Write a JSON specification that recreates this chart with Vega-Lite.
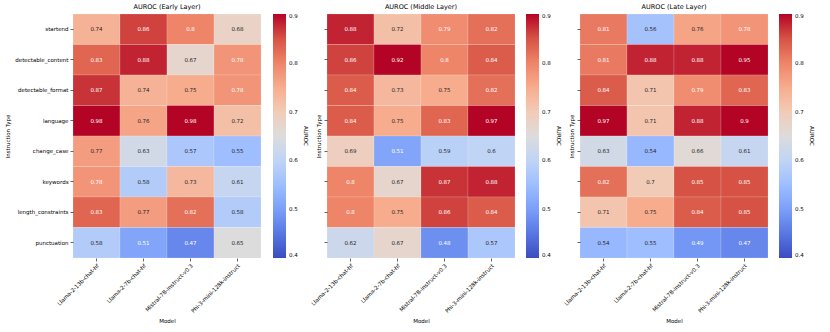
{
  "$schema": "https://vega.github.io/schema/vega-lite/v6.json",
  "padding": {"left": 5, "top": 4, "right": 5, "bottom": 4},
  "background": "white",
  "config": {
    "font": "DejaVu Sans",
    "view": {"stroke": null},
    "concat": {"spacing": 2},
    "title": {"fontSize": 6.5, "fontWeight": "normal", "offset": 3, "color": "black"},
    "axis": {"domain": false, "tickColor": "black", "tickSize": 3, "tickWidth": 0.6, "labelFontSize": 5.5, "labelColor": "black", "titleFontSize": 5.5, "titleFontWeight": "normal", "titleColor": "black", "labelPadding": 2},
    "legend": {"labelFontSize": 5.5, "labelColor": "black", "titleFontSize": 5.5, "titleFontWeight": "normal", "titleColor": "black"}
  },
  "datasets": {
    "early": [
      {"t": "startend", "m": "Llama-2-13b-chat-hf", "v": 0.74}, {"t": "startend", "m": "Llama-2-7b-chat-hf", "v": 0.86}, {"t": "startend", "m": "Mistral-7B-Instruct-v0.3", "v": 0.8}, {"t": "startend", "m": "Phi-3-mini-128k-instruct", "v": 0.68},
      {"t": "detectable_content", "m": "Llama-2-13b-chat-hf", "v": 0.83}, {"t": "detectable_content", "m": "Llama-2-7b-chat-hf", "v": 0.88}, {"t": "detectable_content", "m": "Mistral-7B-Instruct-v0.3", "v": 0.67}, {"t": "detectable_content", "m": "Phi-3-mini-128k-instruct", "v": 0.78},
      {"t": "detectable_format", "m": "Llama-2-13b-chat-hf", "v": 0.87}, {"t": "detectable_format", "m": "Llama-2-7b-chat-hf", "v": 0.74}, {"t": "detectable_format", "m": "Mistral-7B-Instruct-v0.3", "v": 0.75}, {"t": "detectable_format", "m": "Phi-3-mini-128k-instruct", "v": 0.78},
      {"t": "language", "m": "Llama-2-13b-chat-hf", "v": 0.98}, {"t": "language", "m": "Llama-2-7b-chat-hf", "v": 0.76}, {"t": "language", "m": "Mistral-7B-Instruct-v0.3", "v": 0.98}, {"t": "language", "m": "Phi-3-mini-128k-instruct", "v": 0.72},
      {"t": "change_case", "m": "Llama-2-13b-chat-hf", "v": 0.77}, {"t": "change_case", "m": "Llama-2-7b-chat-hf", "v": 0.63}, {"t": "change_case", "m": "Mistral-7B-Instruct-v0.3", "v": 0.57}, {"t": "change_case", "m": "Phi-3-mini-128k-instruct", "v": 0.55},
      {"t": "keywords", "m": "Llama-2-13b-chat-hf", "v": 0.78}, {"t": "keywords", "m": "Llama-2-7b-chat-hf", "v": 0.58}, {"t": "keywords", "m": "Mistral-7B-Instruct-v0.3", "v": 0.73}, {"t": "keywords", "m": "Phi-3-mini-128k-instruct", "v": 0.61},
      {"t": "length_constraints", "m": "Llama-2-13b-chat-hf", "v": 0.83}, {"t": "length_constraints", "m": "Llama-2-7b-chat-hf", "v": 0.77}, {"t": "length_constraints", "m": "Mistral-7B-Instruct-v0.3", "v": 0.82}, {"t": "length_constraints", "m": "Phi-3-mini-128k-instruct", "v": 0.58},
      {"t": "punctuation", "m": "Llama-2-13b-chat-hf", "v": 0.58}, {"t": "punctuation", "m": "Llama-2-7b-chat-hf", "v": 0.51}, {"t": "punctuation", "m": "Mistral-7B-Instruct-v0.3", "v": 0.47}, {"t": "punctuation", "m": "Phi-3-mini-128k-instruct", "v": 0.65}
    ],
    "middle": [
      {"t": "startend", "m": "Llama-2-13b-chat-hf", "v": 0.88}, {"t": "startend", "m": "Llama-2-7b-chat-hf", "v": 0.72}, {"t": "startend", "m": "Mistral-7B-Instruct-v0.3", "v": 0.79}, {"t": "startend", "m": "Phi-3-mini-128k-instruct", "v": 0.82},
      {"t": "detectable_content", "m": "Llama-2-13b-chat-hf", "v": 0.86}, {"t": "detectable_content", "m": "Llama-2-7b-chat-hf", "v": 0.92}, {"t": "detectable_content", "m": "Mistral-7B-Instruct-v0.3", "v": 0.8}, {"t": "detectable_content", "m": "Phi-3-mini-128k-instruct", "v": 0.84},
      {"t": "detectable_format", "m": "Llama-2-13b-chat-hf", "v": 0.84}, {"t": "detectable_format", "m": "Llama-2-7b-chat-hf", "v": 0.73}, {"t": "detectable_format", "m": "Mistral-7B-Instruct-v0.3", "v": 0.75}, {"t": "detectable_format", "m": "Phi-3-mini-128k-instruct", "v": 0.82},
      {"t": "language", "m": "Llama-2-13b-chat-hf", "v": 0.84}, {"t": "language", "m": "Llama-2-7b-chat-hf", "v": 0.75}, {"t": "language", "m": "Mistral-7B-Instruct-v0.3", "v": 0.83}, {"t": "language", "m": "Phi-3-mini-128k-instruct", "v": 0.97},
      {"t": "change_case", "m": "Llama-2-13b-chat-hf", "v": 0.69}, {"t": "change_case", "m": "Llama-2-7b-chat-hf", "v": 0.51}, {"t": "change_case", "m": "Mistral-7B-Instruct-v0.3", "v": 0.59}, {"t": "change_case", "m": "Phi-3-mini-128k-instruct", "v": 0.6},
      {"t": "keywords", "m": "Llama-2-13b-chat-hf", "v": 0.8}, {"t": "keywords", "m": "Llama-2-7b-chat-hf", "v": 0.67}, {"t": "keywords", "m": "Mistral-7B-Instruct-v0.3", "v": 0.87}, {"t": "keywords", "m": "Phi-3-mini-128k-instruct", "v": 0.88},
      {"t": "length_constraints", "m": "Llama-2-13b-chat-hf", "v": 0.8}, {"t": "length_constraints", "m": "Llama-2-7b-chat-hf", "v": 0.75}, {"t": "length_constraints", "m": "Mistral-7B-Instruct-v0.3", "v": 0.86}, {"t": "length_constraints", "m": "Phi-3-mini-128k-instruct", "v": 0.84},
      {"t": "punctuation", "m": "Llama-2-13b-chat-hf", "v": 0.62}, {"t": "punctuation", "m": "Llama-2-7b-chat-hf", "v": 0.67}, {"t": "punctuation", "m": "Mistral-7B-Instruct-v0.3", "v": 0.48}, {"t": "punctuation", "m": "Phi-3-mini-128k-instruct", "v": 0.57}
    ],
    "late": [
      {"t": "startend", "m": "Llama-2-13b-chat-hf", "v": 0.81}, {"t": "startend", "m": "Llama-2-7b-chat-hf", "v": 0.56}, {"t": "startend", "m": "Mistral-7B-Instruct-v0.3", "v": 0.76}, {"t": "startend", "m": "Phi-3-mini-128k-instruct", "v": 0.78},
      {"t": "detectable_content", "m": "Llama-2-13b-chat-hf", "v": 0.81}, {"t": "detectable_content", "m": "Llama-2-7b-chat-hf", "v": 0.88}, {"t": "detectable_content", "m": "Mistral-7B-Instruct-v0.3", "v": 0.88}, {"t": "detectable_content", "m": "Phi-3-mini-128k-instruct", "v": 0.95},
      {"t": "detectable_format", "m": "Llama-2-13b-chat-hf", "v": 0.84}, {"t": "detectable_format", "m": "Llama-2-7b-chat-hf", "v": 0.71}, {"t": "detectable_format", "m": "Mistral-7B-Instruct-v0.3", "v": 0.79}, {"t": "detectable_format", "m": "Phi-3-mini-128k-instruct", "v": 0.83},
      {"t": "language", "m": "Llama-2-13b-chat-hf", "v": 0.97}, {"t": "language", "m": "Llama-2-7b-chat-hf", "v": 0.71}, {"t": "language", "m": "Mistral-7B-Instruct-v0.3", "v": 0.88}, {"t": "language", "m": "Phi-3-mini-128k-instruct", "v": 0.9},
      {"t": "change_case", "m": "Llama-2-13b-chat-hf", "v": 0.63}, {"t": "change_case", "m": "Llama-2-7b-chat-hf", "v": 0.54}, {"t": "change_case", "m": "Mistral-7B-Instruct-v0.3", "v": 0.66}, {"t": "change_case", "m": "Phi-3-mini-128k-instruct", "v": 0.61},
      {"t": "keywords", "m": "Llama-2-13b-chat-hf", "v": 0.82}, {"t": "keywords", "m": "Llama-2-7b-chat-hf", "v": 0.7}, {"t": "keywords", "m": "Mistral-7B-Instruct-v0.3", "v": 0.85}, {"t": "keywords", "m": "Phi-3-mini-128k-instruct", "v": 0.85},
      {"t": "length_constraints", "m": "Llama-2-13b-chat-hf", "v": 0.71}, {"t": "length_constraints", "m": "Llama-2-7b-chat-hf", "v": 0.75}, {"t": "length_constraints", "m": "Mistral-7B-Instruct-v0.3", "v": 0.84}, {"t": "length_constraints", "m": "Phi-3-mini-128k-instruct", "v": 0.85},
      {"t": "punctuation", "m": "Llama-2-13b-chat-hf", "v": 0.54}, {"t": "punctuation", "m": "Llama-2-7b-chat-hf", "v": 0.55}, {"t": "punctuation", "m": "Mistral-7B-Instruct-v0.3", "v": 0.49}, {"t": "punctuation", "m": "Phi-3-mini-128k-instruct", "v": 0.47}
    ]
  },
  "resolve": {"scale": {"color": "independent"}, "legend": {"color": "independent"}},
  "hconcat": [
    {
      "title": "AUROC (Early Layer)",
      "data": {"name": "early"},
      "width": 188, "height": 244,
      "encoding": {
        "x": {"field": "m", "type": "nominal", "sort": null, "scale": {"paddingInner": 0, "paddingOuter": 0}, "title": "Model", "axis": {"labelAngle": -45, "labelAlign": "right", "labelBaseline": "top", "titlePadding": 5}},
        "y": {"field": "t", "type": "nominal", "sort": ["startend", "detectable_content", "detectable_format", "language", "change_case", "keywords", "length_constraints", "punctuation"], "scale": {"paddingInner": 0, "paddingOuter": 0}, "title": "Instruction Type", "axis": {"titlePadding": 4}}
      },
      "layer": [
        {"mark": {"type": "rect", "stroke": "white", "strokeWidth": 0.4, "strokeOpacity": 0.4},
         "encoding": {"color": {"field": "v", "type": "quantitative", "title": "AUROC",
           "scale": {"domain": [0.4, 0.9], "clamp": true, "interpolate": "rgb", "range": ["#3b4cc0", "#5977e3", "#7b9ff9", "#9ebeff", "#c0d4f5", "#dddcdc", "#f2cbb7", "#f7ac8e", "#ee8468", "#d65244", "#b40426"]},
           "legend": {"gradientLength": 244, "gradientThickness": 13, "offset": 12, "values": [0.4, 0.5, 0.6, 0.7, 0.8, 0.9], "titleOrient": "right", "titleAngle": 270, "titleAnchor": "middle", "titleBaseline": "bottom", "titlePadding": 5, "gradientStrokeWidth": 0, "labelOffset": 3}}}},
        {"mark": {"type": "text", "fontSize": 5.5},
         "encoding": {"text": {"field": "v", "type": "nominal"},
           "color": {"condition": {"test": "datum.v > 0.775 || datum.v < 0.52", "value": "white"}, "value": "#262626"}}}
      ]
    },
    {
      "title": "AUROC (Middle Layer)",
      "data": {"name": "middle"},
      "width": 188, "height": 244,
      "encoding": {
        "x": {"field": "m", "type": "nominal", "sort": null, "scale": {"paddingInner": 0, "paddingOuter": 0}, "title": "Model", "axis": {"labelAngle": -45, "labelAlign": "right", "labelBaseline": "top", "titlePadding": 5}},
        "y": {"field": "t", "type": "nominal", "sort": ["startend", "detectable_content", "detectable_format", "language", "change_case", "keywords", "length_constraints", "punctuation"], "scale": {"paddingInner": 0, "paddingOuter": 0}, "title": "Instruction Type", "axis": {"labels": false, "titlePadding": 2}}
      },
      "layer": [
        {"mark": {"type": "rect", "stroke": "white", "strokeWidth": 0.4, "strokeOpacity": 0.4},
         "encoding": {"color": {"field": "v", "type": "quantitative", "title": "AUROC",
           "scale": {"domain": [0.4, 0.9], "clamp": true, "interpolate": "rgb", "range": ["#3b4cc0", "#5977e3", "#7b9ff9", "#9ebeff", "#c0d4f5", "#dddcdc", "#f2cbb7", "#f7ac8e", "#ee8468", "#d65244", "#b40426"]},
           "legend": {"gradientLength": 244, "gradientThickness": 13, "offset": 11, "values": [0.4, 0.5, 0.6, 0.7, 0.8, 0.9], "titleOrient": "right", "titleAngle": 270, "titleAnchor": "middle", "titleBaseline": "bottom", "titlePadding": 5, "gradientStrokeWidth": 0, "labelOffset": 3}}}},
        {"mark": {"type": "text", "fontSize": 5.5},
         "encoding": {"text": {"field": "v", "type": "nominal"},
           "color": {"condition": {"test": "datum.v > 0.775 || datum.v < 0.52", "value": "white"}, "value": "#262626"}}}
      ]
    },
    {
      "title": "AUROC (Late Layer)",
      "data": {"name": "late"},
      "width": 188, "height": 244,
      "encoding": {
        "x": {"field": "m", "type": "nominal", "sort": null, "scale": {"paddingInner": 0, "paddingOuter": 0}, "title": "Model", "axis": {"labelAngle": -45, "labelAlign": "right", "labelBaseline": "top", "titlePadding": 5}},
        "y": {"field": "t", "type": "nominal", "sort": ["startend", "detectable_content", "detectable_format", "language", "change_case", "keywords", "length_constraints", "punctuation"], "scale": {"paddingInner": 0, "paddingOuter": 0}, "title": "Instruction Type", "axis": {"labels": false, "titlePadding": 2}}
      },
      "layer": [
        {"mark": {"type": "rect", "stroke": "white", "strokeWidth": 0.4, "strokeOpacity": 0.4},
         "encoding": {"color": {"field": "v", "type": "quantitative", "title": "AUROC",
           "scale": {"domain": [0.4, 0.9], "clamp": true, "interpolate": "rgb", "range": ["#3b4cc0", "#5977e3", "#7b9ff9", "#9ebeff", "#c0d4f5", "#dddcdc", "#f2cbb7", "#f7ac8e", "#ee8468", "#d65244", "#b40426"]},
           "legend": {"gradientLength": 244, "gradientThickness": 13, "offset": 11, "values": [0.4, 0.5, 0.6, 0.7, 0.8, 0.9], "titleOrient": "right", "titleAngle": 270, "titleAnchor": "middle", "titleBaseline": "bottom", "titlePadding": 5, "gradientStrokeWidth": 0, "labelOffset": 3}}}},
        {"mark": {"type": "text", "fontSize": 5.5},
         "encoding": {"text": {"field": "v", "type": "nominal"},
           "color": {"condition": {"test": "datum.v > 0.775 || datum.v < 0.52", "value": "white"}, "value": "#262626"}}}
      ]
    }
  ]
}
